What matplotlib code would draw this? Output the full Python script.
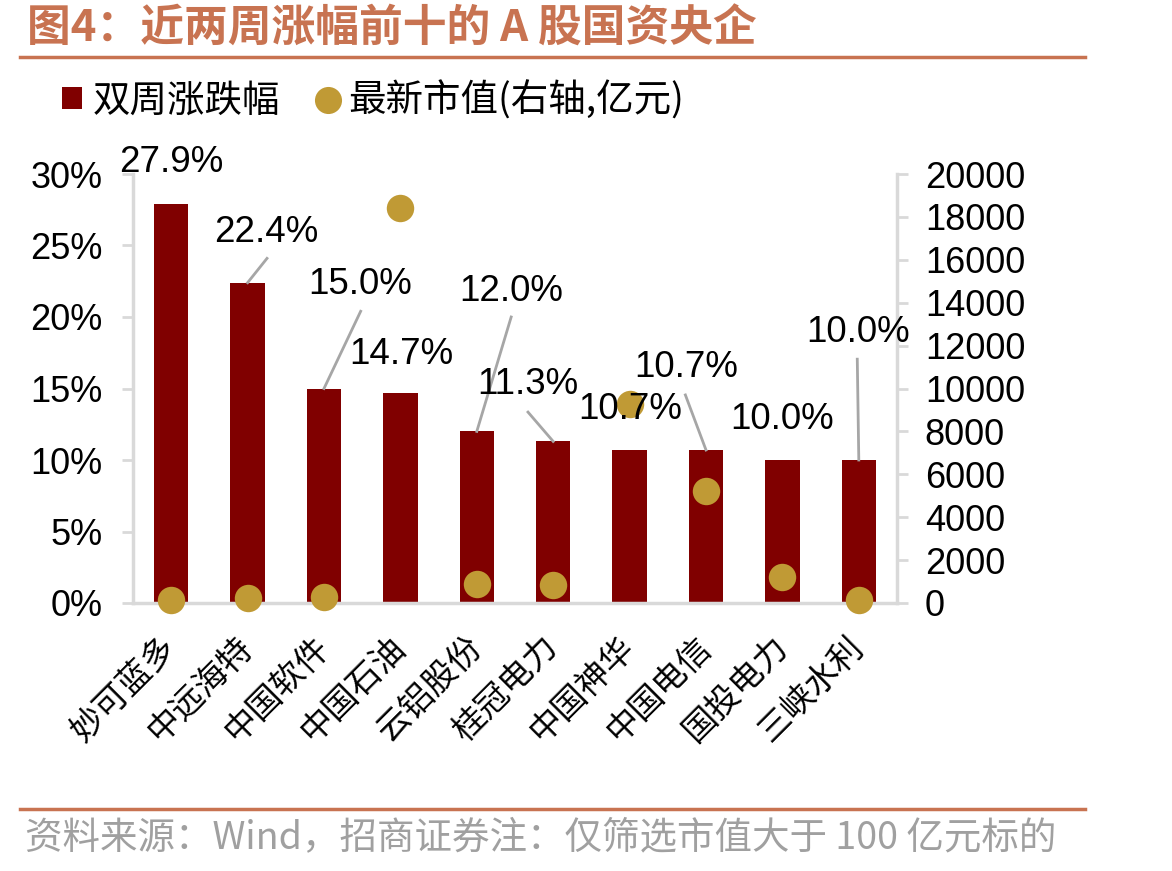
import matplotlib
matplotlib.use("Agg")
import matplotlib.pyplot as plt
from matplotlib.lines import Line2D
from matplotlib.patches import Patch

# ---- data ----
categories = ["妙可蓝多", "中远海特", "中国软件", "中国石油", "云铝股份",
              "桂冠电力", "中国神华", "中国电信", "国投电力", "三峡水利"]
change_pct = [27.9, 22.4, 15.0, 14.7, 12.0, 11.3, 10.7, 10.7, 10.0, 10.0]
market_cap = [150, 250, 300, 18400, 900, 850, 9300, 5200, 1200, 150]
left_ticks = [0, 5, 10, 15, 20, 25, 30]
right_ticks = [0, 2000, 4000, 6000, 8000, 10000, 12000, 14000, 16000, 18000, 20000]

# label placement (layout): text centre (x, y) and optional leader start
label_pos = [(0.0, 30.8), (1.24, 25.9), (2.47, 22.3), (3.01, 17.4), (4.45, 21.8),
             (4.67, 15.3), (6.01, 13.5), (6.74, 16.5), (8.0, 12.8), (8.99, 18.95)]
leader_start = [None, (1.254, 24.1), (2.48, 20.4), None, (4.45, 20.0),
                (4.67, 13.35), None, (6.73, 14.55), None, (8.98, 17.05)]

BAR = "#800000"
DOT = "#C09A35"
TITLE_C = "#C87351"
SPINE = "#D9D9D9"
LEAD = "#A6A6A6"
NUMFONT = ["Liberation Sans", "Noto Sans CJK SC"]
CJK = ["Noto Sans CJK SC", "DejaVu Sans"]

W, H = 1172, 871
fig = plt.figure(figsize=(W / 100, H / 100), dpi=100)
L, R, B, T = 133, 897, 603, 174
ax = fig.add_axes([L / W, 1 - B / H, (R - L) / W, (B - T) / H])
ax2 = ax.twinx()

x = list(range(len(categories)))
bars = ax.bar(x, change_pct, width=0.45, color=BAR, zorder=2)
sc = ax2.scatter(x, market_cap, s=390, color=DOT, zorder=3, linewidths=0, clip_on=False)

ax.set_xlim(-0.5, len(categories) - 0.5)
ax.set_ylim(0, 30)
ax2.set_ylim(0, 20000)
ax.set_yticks(left_ticks)
ax.set_yticklabels([f"{v}%" for v in left_ticks], fontsize=26, family=NUMFONT)
ax2.set_yticks(right_ticks)
ax2.set_yticklabels([str(v) for v in right_ticks], fontsize=26, family=NUMFONT)
ax.set_xticks(x)
ax.set_xticklabels(categories, rotation=45, ha="right", va="center",
                   rotation_mode="anchor", fontsize=24, family=CJK)
ax.tick_params(axis="x", length=0, pad=28)
ax.tick_params(axis="y", length=8, width=2, color=SPINE, pad=14)
ax2.tick_params(axis="y", length=8, width=2, color=SPINE, pad=12)

for a in (ax, ax2):
    a.spines["top"].set_visible(False)
    for s in ("left", "right", "bottom"):
        a.spines[s].set_color(SPINE)
        a.spines[s].set_linewidth(2.5)
ax2.spines["bottom"].set_visible(False)
ax2.spines["left"].set_visible(False)
ax.spines["right"].set_visible(False)

# value labels with leader lines (drawn on top axes so they sit above dots)
for i, v in enumerate(change_pct):
    lx, ly = label_pos[i]
    ax2.text(lx, ly, f"{v:.1f}%", transform=ax.transData, ha="center", va="center",
             fontsize=26.5, family=NUMFONT, color="black", zorder=5, clip_on=False)
    if leader_start[i] is not None:
        sx, sy = leader_start[i]
        ax2.plot([sx, i], [sy, v], color=LEAD, lw=2, transform=ax.transData,
                 zorder=4, clip_on=False)

# legend
handles = [Patch(facecolor=BAR, edgecolor="none"),
           Line2D([], [], marker="o", ls="none", markersize=19.5,
                  markerfacecolor=DOT, markeredgecolor="none")]
leg = fig.legend(handles, ["双周涨跌幅", "最新市值(右轴,亿元)"], loc="center left",
                 bbox_to_anchor=(62 / W, 1 - 101 / H), ncol=2, frameon=False,
                 prop={"family": CJK, "size": 27}, handlelength=0.52, handleheight=0.52,
                 handletextpad=0.3, columnspacing=1.0, borderpad=0, borderaxespad=0)

# title + rules + footer
fig.text(27 / W, 1 - 29 / H, "图4：近两周涨幅前十的 A 股国资央企", fontsize=31.5,
         fontweight="bold", color=TITLE_C, family=CJK, ha="left", va="center")
fig.add_artist(Line2D([20 / W, 1085 / W], [1 - 57 / H, 1 - 57 / H], color=TITLE_C, lw=2.5))
fig.add_artist(Line2D([20 / W, 1085 / W], [1 - 809 / H, 1 - 809 / H], color=TITLE_C, lw=2.5))
fig.text(25 / W, 1 - 838 / H, "资料来源：Wind，招商证券注：仅筛选市值大于 100 亿元标的",
         fontsize=27, color="#A0A0A0", family=CJK, ha="left", va="center")

fig.savefig("out.png", dpi=100, facecolor="white")
